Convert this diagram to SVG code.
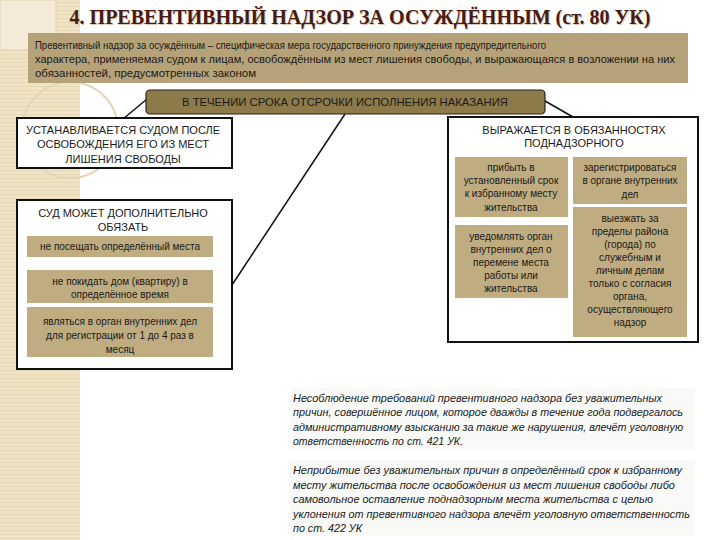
<svg xmlns="http://www.w3.org/2000/svg" width="720" height="540" viewBox="0 0 720 540">
<defs>
<pattern id="stripes" width="8" height="4" patternUnits="userSpaceOnUse">
<rect width="8" height="4" fill="#efe4c6"/>
<rect y="2" width="8" height="1" fill="#e6d8b4"/>
</pattern>
<style>
.t{font-family:"Liberation Sans",Arial,sans-serif;fill:#1a1a1a}
.cap{font-size:11px;text-anchor:middle}
.sm{font-size:10px;text-anchor:middle}
.def{font-size:10.5px}
.it{font-family:"Liberation Sans",Arial,sans-serif;font-style:italic;font-size:10.5px;fill:#1a1a1a}
.wbox{fill:#ffffff;stroke:#111;stroke-width:2}
.tan{fill:#bfac80}
.conn{stroke:#111;stroke-width:1.5;fill:none}
</style>
</defs>
<rect width="720" height="540" fill="#ffffff"/>
<rect x="0" y="0" width="80" height="540" fill="url(#stripes)"/>
<rect x="0" y="0" width="56" height="50" fill="#f4ecd8" stroke="#e2d4b0" stroke-width="1"/>
<circle cx="70" cy="130" r="48" fill="none" stroke="#e4d6b2" stroke-width="2"/>

<g id="title">
<text x="361" y="25" font-family="'Liberation Serif','Times New Roman',serif" font-weight="bold" font-size="21" fill="#d9c9b0" textLength="581" lengthAdjust="spacingAndGlyphs" text-anchor="middle">4. ПРЕВЕНТИВНЫЙ НАДЗОР ЗА ОСУЖДЁННЫМ (ст. 80 УК)</text>
<text x="360" y="24" font-family="'Liberation Serif','Times New Roman',serif" font-weight="bold" font-size="21" fill="#4a1a10" textLength="581" lengthAdjust="spacingAndGlyphs" text-anchor="middle">4. ПРЕВЕНТИВНЫЙ НАДЗОР ЗА ОСУЖДЁННЫМ (ст. 80 УК)</text>
</g>

<g id="definition">
<rect x="28" y="33" width="660" height="50" fill="#b6a278"/>
<text class="t def" x="35" y="49" textLength="511" lengthAdjust="spacingAndGlyphs">Превентивный надзор за осуждённым – специфическая мера государственного принуждения предупредительного</text>
<text class="t def" x="35" y="63" textLength="640" lengthAdjust="spacingAndGlyphs">характера, применяемая судом к лицам, освобождённым из мест лишения свободы, и выражающаяся в возложении на них</text>
<text class="t def" x="35" y="77" textLength="221" lengthAdjust="spacingAndGlyphs">обязанностей, предусмотренных законом</text>
</g>

<g id="connectors">
<line class="conn" x1="147" y1="99" x2="123" y2="119"/>
<line class="conn" x1="545" y1="101" x2="573" y2="117"/>
<line class="conn" x1="345" y1="114" x2="232" y2="285"/>
</g>

<g id="banner">
<rect x="146" y="90" width="399" height="24" rx="4" fill="#8c7a4a" stroke="#2a2210" stroke-width="1.2"/>
<text class="t cap" x="345" y="106" textLength="326" lengthAdjust="spacingAndGlyphs">В ТЕЧЕНИИ СРОКА ОТСРОЧКИ ИСПОЛНЕНИЯ НАКАЗАНИЯ</text>
</g>

<g id="after-release">
<rect class="wbox" x="17" y="118" width="215" height="50"/>
<text class="t cap" x="123" y="134">УСТАНАВЛИВАЕТСЯ СУДОМ ПОСЛЕ</text>
<text class="t cap" x="123" y="148">ОСВОБОЖДЕНИЯ ЕГО ИЗ МЕСТ</text>
<text class="t cap" x="123" y="163">ЛИШЕНИЯ СВОБОДЫ</text>
</g>

<g id="court-may">
<rect class="wbox" x="17" y="200" width="215" height="169"/>
<text class="t cap" x="123" y="217">СУД МОЖЕТ ДОПОЛНИТЕЛЬНО</text>
<text class="t cap" x="123" y="231">ОБЯЗАТЬ</text>
<rect class="tan" x="27" y="236" width="186" height="21"/>
<text class="t sm" x="120" y="250">не посещать определённый места</text>
<rect class="tan" x="27" y="270" width="186" height="33"/>
<text class="t sm" x="120" y="285">не покидать дом (квартиру) в</text>
<text class="t sm" x="120" y="298">определённое время</text>
<rect class="tan" x="27" y="307" width="186" height="50"/>
<text class="t sm" x="120" y="325">являться в орган внутренних дел</text>
<text class="t sm" x="120" y="339">для регистрации от 1 до 4 раз в</text>
<text class="t sm" x="120" y="353">месяц</text>
</g>

<g id="duties">
<rect class="wbox" x="448" y="117" width="250" height="225"/>
<text class="t cap" x="574" y="134">ВЫРАЖАЕТСЯ В ОБЯЗАННОСТЯХ</text>
<text class="t cap" x="574" y="147">ПОДНАДЗОРНОГО</text>
<rect class="tan" x="455" y="157" width="113" height="60"/>
<text class="t sm" x="511" y="171">прибыть в</text>
<text class="t sm" x="511" y="184">установленный срок</text>
<text class="t sm" x="511" y="197">к избранному месту</text>
<text class="t sm" x="511" y="211">жительства</text>
<rect class="tan" x="455" y="225" width="113" height="73"/>
<text class="t sm" x="511" y="240">уведомлять орган</text>
<text class="t sm" x="511" y="253">внутренних дел о</text>
<text class="t sm" x="511" y="266">перемене места</text>
<text class="t sm" x="511" y="279">работы или</text>
<text class="t sm" x="511" y="292">жительства</text>
<rect class="tan" x="573" y="157" width="114" height="47"/>
<text class="t sm" x="630" y="171">зарегистрироваться</text>
<text class="t sm" x="630" y="184">в органе внутренних</text>
<text class="t sm" x="630" y="198">дел</text>
<rect class="tan" x="573" y="207" width="114" height="130"/>
<text class="t sm" x="630" y="222">выезжать за</text>
<text class="t sm" x="630" y="235">пределы района</text>
<text class="t sm" x="630" y="248">(города) по</text>
<text class="t sm" x="630" y="261">служебным и</text>
<text class="t sm" x="630" y="274">личным делам</text>
<text class="t sm" x="630" y="287">только с согласия</text>
<text class="t sm" x="630" y="300">органа,</text>
<text class="t sm" x="630" y="313">осуществляющего</text>
<text class="t sm" x="630" y="326">надзор</text>
</g>

<g id="liability">
<rect x="289" y="388" width="406" height="62" fill="#f9f9f8"/>
<rect x="289" y="460" width="406" height="76" fill="#f9f9f8"/>
<text class="it" x="293" y="402" textLength="369" lengthAdjust="spacingAndGlyphs">Несоблюдение требований превентивного надзора без уважительных</text>
<text class="it" x="293" y="416" textLength="390" lengthAdjust="spacingAndGlyphs">причин, совершённое лицом, которое дважды в течение года подвергалось</text>
<text class="it" x="293" y="431" textLength="390" lengthAdjust="spacingAndGlyphs">административному взысканию за такие же нарушения, влечёт уголовную</text>
<text class="it" x="293" y="445" textLength="170" lengthAdjust="spacingAndGlyphs">ответственность по ст. 421 УК.</text>
<text class="it" x="293" y="474" textLength="389" lengthAdjust="spacingAndGlyphs">Неприбытие без уважительных причин в определённый срок к избранному</text>
<text class="it" x="293" y="489" textLength="382" lengthAdjust="spacingAndGlyphs">месту жительства после освобождения из мест лишения свободы либо</text>
<text class="it" x="293" y="503" textLength="360" lengthAdjust="spacingAndGlyphs">самовольное оставление поднадзорным места жительства с целью</text>
<text class="it" x="293" y="518" textLength="397" lengthAdjust="spacingAndGlyphs">уклонения от превентивного надзора влечёт уголовную ответственность</text>
<text class="it" x="293" y="532" textLength="69" lengthAdjust="spacingAndGlyphs">по ст. 422 УК</text>
</g>
</svg>
